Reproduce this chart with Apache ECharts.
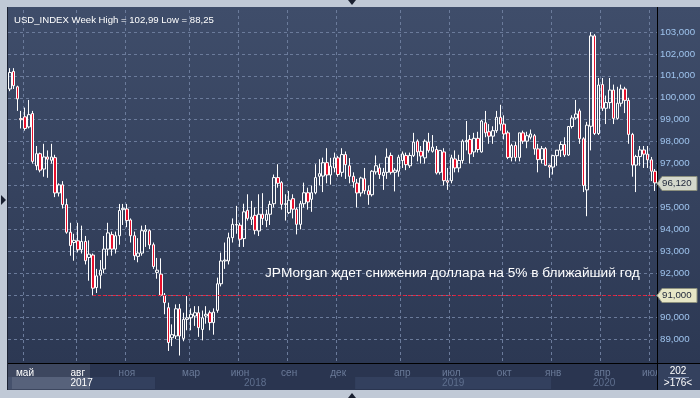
<!DOCTYPE html>
<html>
<head>
<meta charset="utf-8">
<title>USD_INDEX Week</title>
<script src="https://cdn.jsdelivr.net/npm/echarts@6/dist/echarts.min.js"></script>
<style>
  html, body { margin: 0; padding: 0; background: #c0c9d6; }
  #chart { width: 700px; height: 398px; }
</style>
</head>
<body>
<div id="chart"></div>
<script>
// weekly bars, first bar = week of 2017-04-03, last = week of 2020-07-13
const firstWeek = [2017, 3, 3]
const opens = [
  100.40, 101.20, 100.50, 99.05, 99.13, 98.67, 99.28, 96.90, 97.45, 96.75,
  97.30, 97.15, 97.27, 95.66, 96.03, 95.13, 93.87, 93.40, 93.48, 93.07,
  93.45, 92.72, 92.83, 91.35, 91.91, 92.19, 93.10, 93.76, 93.10, 93.71,
  94.90, 94.93, 94.43, 93.71, 92.77, 92.92, 93.91, 93.94, 93.30, 92.04,
  91.96, 91.00, 90.43, 89.06, 89.14, 90.38, 89.03, 89.90, 89.97, 90.05,
  90.20, 89.44, 90.05, 90.20, 89.75, 90.31, 91.52, 92.56, 92.56, 93.62,
  94.20, 94.19, 93.58, 94.87, 94.46, 94.64, 93.93, 94.69, 94.41, 94.69,
  95.17, 96.36, 96.13, 95.14, 94.76, 95.40, 94.92, 94.23, 95.17, 95.67,
  95.37, 95.67, 96.42, 96.43, 97.04, 96.48, 96.80, 97.26, 96.60, 97.41,
  96.90, 96.42, 96.11, 95.66, 96.31, 95.76, 95.58, 96.62, 96.80, 96.45,
  96.60, 97.37, 96.60, 96.65, 97.14, 97.37, 96.90, 97.37, 98.02, 97.56,
  97.26, 97.98, 97.56, 97.64, 96.60, 97.53, 96.22, 96.22, 97.21, 96.80,
  97.14, 97.99, 98.10, 97.53, 98.15, 97.53, 98.86, 98.45, 98.25, 98.50,
  99.11, 98.80, 98.40, 97.28, 97.82, 97.28, 98.40, 98.02, 98.20, 98.27,
  97.67, 97.18, 97.68, 96.92, 96.84, 97.36, 97.61, 97.87, 97.39, 98.69,
  99.08, 99.40, 98.13, 95.80, 98.70, 102.82, 98.37, 100.60, 99.52, 99.78,
  100.35, 99.06, 99.75, 100.40, 99.88, 98.33, 96.93, 97.32, 97.62, 97.43,
  97.17, 96.65
]
const highs = [
  101.35, 101.35, 100.55, 99.40, 99.55, 99.90, 99.40, 97.80, 97.50, 97.90,
  97.60, 97.90, 97.40, 96.10, 96.20, 95.40, 94.30, 93.80, 94.30, 94.17,
  93.70, 93.50, 92.90, 92.20, 92.60, 93.70, 94.30, 93.90, 93.90, 95.16,
  95.16, 95.16, 94.50, 93.90, 93.60, 94.17, 94.20, 94.00, 93.40, 92.70,
  92.68, 91.10, 90.66, 89.67, 90.58, 90.60, 90.20, 90.96, 90.40, 90.50,
  90.50, 90.30, 90.50, 90.30, 90.40, 91.80, 92.94, 93.40, 93.85, 94.50,
  95.07, 94.30, 95.17, 95.60, 95.30, 95.00, 95.60, 95.65, 94.90, 95.30,
  96.50, 96.97, 96.20, 95.60, 95.75, 95.60, 95.00, 95.30, 96.13, 95.90,
  96.00, 96.97, 97.20, 97.27, 97.70, 97.26, 97.50, 97.35, 97.70, 97.55,
  97.25, 96.60, 96.30, 96.40, 96.80, 96.00, 96.70, 97.37, 97.00, 96.80,
  97.69, 97.50, 96.80, 97.40, 97.55, 97.50, 97.50, 98.40, 98.10, 97.80,
  98.10, 98.40, 98.30, 97.80, 97.60, 97.70, 96.80, 97.40, 97.60, 97.40,
  98.10, 98.94, 98.30, 98.40, 98.45, 99.00, 99.40, 98.80, 98.70, 99.40,
  99.68, 99.20, 98.50, 97.90, 98.00, 98.40, 98.50, 98.45, 98.55, 98.35,
  97.90, 97.80, 97.75, 96.95, 97.40, 97.60, 98.00, 98.20, 98.70, 99.20,
  99.90, 99.50, 98.20, 98.90, 102.99, 102.90, 100.90, 100.90, 100.10, 100.90,
  100.60, 100.50, 100.60, 100.50, 100.00, 98.40, 97.40, 97.80, 97.80, 97.80,
  97.30, 96.75
]
const lows = [
  100.30, 100.40, 99.40, 98.60, 98.50, 98.60, 97.00, 96.70, 96.60, 96.40,
  96.35, 97.00, 95.47, 95.50, 94.95, 93.80, 92.80, 92.57, 92.95, 92.90,
  92.40, 91.66, 91.00, 91.10, 91.30, 92.00, 92.80, 92.80, 92.90, 93.30,
  94.20, 94.10, 93.40, 92.60, 92.50, 92.80, 93.20, 93.10, 92.20, 91.75,
  90.95, 90.13, 88.46, 88.68, 89.00, 88.25, 88.90, 89.40, 89.40, 89.60,
  89.10, 88.94, 89.70, 89.40, 89.20, 90.20, 91.40, 92.20, 92.40, 93.40,
  93.80, 93.20, 93.20, 94.40, 94.20, 93.77, 93.70, 94.20, 94.10, 94.20,
  95.00, 95.90, 94.90, 94.40, 94.70, 94.50, 93.77, 94.00, 95.00, 94.90,
  94.80, 95.60, 96.00, 95.70, 96.10, 96.04, 96.60, 96.40, 96.40, 96.30,
  96.10, 95.90, 95.00, 95.50, 95.60, 95.12, 95.50, 96.50, 96.30, 95.80,
  96.30, 96.50, 95.73, 96.40, 96.80, 96.70, 96.80, 97.30, 97.10, 97.00,
  97.00, 97.50, 97.50, 96.50, 96.50, 96.00, 95.80, 96.10, 96.60, 96.60,
  97.00, 97.60, 97.00, 97.30, 97.50, 97.50, 98.20, 97.90, 97.90, 98.40,
  98.50, 98.10, 97.20, 97.10, 97.10, 97.10, 97.90, 97.70, 98.10, 97.40,
  96.60, 97.00, 96.90, 96.35, 96.50, 96.90, 97.30, 97.30, 97.35, 98.60,
  99.00, 97.90, 95.70, 94.60, 97.60, 98.30, 98.30, 99.40, 98.80, 99.50,
  98.80, 99.00, 99.60, 99.30, 97.90, 96.40, 95.70, 96.90, 96.80, 96.80,
  96.20, 95.75
]
const closes = [
  101.15, 100.55, 99.95, 99.00, 98.60, 99.23, 97.10, 97.45, 96.70, 97.30,
  97.20, 97.30, 95.66, 96.03, 95.13, 93.87, 93.26, 93.50, 93.07, 93.45,
  92.57, 92.87, 91.32, 91.88, 92.14, 93.10, 93.84, 93.10, 93.71, 94.86,
  94.96, 94.40, 93.71, 92.80, 92.92, 93.94, 93.98, 93.29, 92.31, 92.14,
  91.00, 90.66, 88.84, 89.20, 90.38, 89.14, 89.90, 89.97, 90.13, 90.20,
  89.52, 89.97, 90.13, 89.75, 90.23, 91.52, 92.56, 92.60, 93.62, 94.23,
  94.22, 93.55, 94.80, 94.50, 94.56, 93.96, 94.69, 94.50, 94.69, 95.14,
  96.36, 96.10, 95.14, 95.17, 95.33, 94.92, 94.23, 95.17, 95.67, 95.25,
  95.67, 96.36, 96.54, 97.04, 96.48, 96.88, 97.26, 96.50, 97.41, 96.95,
  96.42, 96.16, 95.66, 96.34, 95.76, 95.58, 96.65, 96.90, 96.50, 96.60,
  97.29, 96.60, 96.70, 97.29, 97.44, 96.95, 97.37, 97.98, 97.53, 97.34,
  98.02, 97.60, 97.75, 96.57, 97.60, 96.22, 96.15, 97.26, 96.80, 97.14,
  98.02, 98.05, 97.44, 98.15, 97.64, 98.94, 98.40, 98.25, 98.50, 99.11,
  98.80, 98.35, 97.28, 97.82, 97.28, 98.40, 98.02, 98.27, 98.35, 97.67,
  97.18, 97.68, 96.92, 96.84, 97.36, 97.61, 97.87, 97.39, 98.69, 99.08,
  99.26, 98.13, 96.00, 98.75, 102.82, 98.37, 100.58, 99.52, 99.78, 100.35,
  99.06, 99.75, 100.40, 99.88, 98.33, 96.93, 97.32, 97.62, 97.43, 97.17,
  96.65, 96.12
]

// month marks on the time axis (first monday of the month)
const monthMarks = {
  '2017-05-01': 'май', '2017-08-07': 'авг', '2017-11-06': 'ноя',
  '2018-03-05': 'мар', '2018-06-04': 'июн', '2018-09-03': 'сен', '2018-12-03': 'дек',
  '2019-04-01': 'апр', '2019-07-01': 'июл', '2019-10-07': 'окт',
  '2020-01-06': 'янв', '2020-04-06': 'апр', '2020-07-06': 'июл'
}
const years = ['2017', '2018', '2019', '2020']
const supportLevel = 91
const supportFrom = '2017-09-04'
const lastPrice = 96.12
const titleText = 'USD_INDEX Week High = 102,99 Low = 88,25'
const newsText = 'JPMorgan ждет снижения доллара на 5% в ближайший год'

const weeks = opens.map((_, i) => {
  const d = new Date(Date.UTC(firstWeek[0], firstWeek[1], firstWeek[2] + i * 7))
  return d.toISOString().slice(0, 10)
})
const candles = opens.map((o, i) => [o, closes[i], lows[i], highs[i]])

const FONT = 'Liberation Sans'
const fmt = (v, d) => v.toFixed(d).replace('.', ',')
const sliderEnd = 90 // right edge of the lighter scroll window in the time bar

const chart = echarts.init(document.getElementById('chart'))

chart.setOption({
  animation: false,
  backgroundColor: '#c0c9d6',
  textStyle: { fontFamily: FONT },
  title: {
    text: titleText,
    left: 9,
    top: 10,
    textStyle: { color: '#ffffff', fontSize: 9.6, fontWeight: 'normal', fontFamily: FONT }
  },
  grid: { left: 8, right: 43, top: 10, bottom: 37 },
  xAxis: {
    type: 'category',
    data: weeks,
    boundaryGap: true,
    offset: 2,
    axisLine: { show: false },
    axisTick: { show: false },
    axisLabel: {
      interval: (i, v) => v in monthMarks,
      formatter: v => monthMarks[v] || '',
      fontSize: 10,
      margin: 5,
      color: (v, i) => (weeks.indexOf(v) < 21 ? '#ffffff' : '#6a7a98')
    },
    splitLine: {
      show: true,
      interval: (i, v) => v in monthMarks,
      lineStyle: { color: '#6b7b9b', type: [3, 3], width: 1 }
    }
  },
  yAxis: {
    type: 'value',
    position: 'right',
    min: 88,
    max: 104,
    interval: 1,
    axisLine: { show: false },
    axisTick: { show: false },
    axisLabel: {
      color: '#9fc4ee',
      fontSize: 9.7,
      margin: 3,
      showMinLabel: false,
      showMaxLabel: false,
      formatter: v => fmt(v, 3)
    },
    splitLine: {
      show: true,
      showMinLine: false,
      showMaxLine: false,
      lineStyle: { color: '#6b7b9b', type: [3, 3], width: 1 }
    }
  },
  series: [{
    type: 'candlestick',
    data: candles,
    barWidth: 3,
    itemStyle: {
      color: 'rgba(0,0,0,0)',
      color0: '#e8102c',
      borderColor: '#ffffff',
      borderColor0: '#ffffff',
      borderWidth: 1
    },
    markLine: {
      silent: true,
      symbol: 'none',
      label: { show: false },
      lineStyle: { color: '#e8203a', type: [3, 2], width: 1 },
      data: [[
        { coord: [supportFrom, supportLevel] },
        { coord: [weeks[weeks.length - 1], supportLevel] }
      ]]
    }
  }]
})

// chrome: panels, bars, tags and notes, placed from the axes
const xOf = i => chart.convertToPixel({ xAxisIndex: 0 }, weeks[i])
const yOf = v => chart.convertToPixel({ yAxisIndex: 0 }, v)
const band = xOf(1) - xOf(0)

const g = []
const plotGrad = new echarts.graphic.LinearGradient(0, 0, 0, 1, [
  { offset: 0, color: '#3f4d6a' }, { offset: 1, color: '#2c3853' }
])
g.push({ type: 'rect', z: -20, shape: { x: 8, y: 7, width: 692, height: 356 }, style: { fill: plotGrad } })
g.push({ type: 'rect', z: -20, shape: { x: 8, y: 363, width: 692, height: 27 }, style: { fill: '#2a3550' } })

// year bands in the time bar
years.forEach((yr, k) => {
  const idx = weeks.map((w, i) => (w.slice(0, 4) === yr ? i : -1)).filter(i => i >= 0)
  const x0 = xOf(idx[0]) - band / 2
  const x1 = Math.min(657, xOf(idx[idx.length - 1]) + band / 2)
  g.push({ type: 'rect', z: -15, shape: { x: x0, y: 377, width: x1 - x0, height: 12 },
    style: { fill: k % 2 === 0 ? '#33405e' : '#2a3550' } })
  g.push({ type: 'text', z: 10, style: {
    text: yr, x: (x0 + x1) / 2, y: 383, align: 'center', verticalAlign: 'middle',
    fill: k === 0 ? '#ffffff' : '#5f6f8e', font: '10px ' + FONT } })
})
// lighter scroll window
g.push({ type: 'rect', z: -10, shape: { x: 8, y: 364, width: sliderEnd - 8, height: 26 },
  style: { fill: 'rgba(255,255,255,0.09)' } })
g.push({ type: 'rect', z: -10, shape: { x: 12, y: 377, width: sliderEnd - 12, height: 12 },
  style: { fill: 'rgba(255,255,255,0.1)' } })

// right bottom box
g.push({ type: 'rect', z: 20, shape: { x: 657, y: 363, width: 43, height: 27 }, style: { fill: '#34415e' } })
g.push({ type: 'text', z: 21, style: { text: '202', x: 678, y: 371, align: 'center', verticalAlign: 'middle', fill: '#ffffff', font: '10px ' + FONT } })
g.push({ type: 'line', z: 21, shape: { x1: 668, y1: 377.5, x2: 689, y2: 377.5 }, style: { stroke: '#8090b0', lineWidth: 1 } })
g.push({ type: 'text', z: 21, style: { text: '>176<', x: 678, y: 383, align: 'center', verticalAlign: 'middle', fill: '#ffffff', font: '10px ' + FONT } })

// separators
g.push({ type: 'line', z: 22, shape: { x1: 657.5, y1: 7, x2: 657.5, y2: 390 }, style: { stroke: '#000000', lineWidth: 1 } })
g.push({ type: 'line', z: 22, shape: { x1: 8, y1: 363.5, x2: 700, y2: 363.5 }, style: { stroke: '#000000', lineWidth: 1 } })
g.push({ type: 'line', z: 22, shape: { x1: 7.5, y1: 7, x2: 7.5, y2: 390 }, style: { stroke: '#1c2334', lineWidth: 1 } })

// small arrows in the frame
g.push({ type: 'polygon', z: 22, shape: { points: [[348, 0], [356, 0], [352, 5]] }, style: { fill: '#1a2030' } })
g.push({ type: 'polygon', z: 22, shape: { points: [[348, 398], [356, 398], [352, 393]] }, style: { fill: '#1a2030' } })
g.push({ type: 'polygon', z: 22, shape: { points: [[1, 195], [1, 205], [6, 200]] }, style: { fill: '#1a2030' } })

// price tags on the value axis
function tag(value, bg) {
  const y = Math.round(yOf(value)) + 0.5
  g.push({ type: 'polygon', z: 30, shape: { points: [[657, y], [662, y - 7], [697, y - 7], [697, y + 7], [662, y + 7]] },
    style: { fill: bg, stroke: '#8c907e', lineWidth: 1 } })
  g.push({ type: 'text', z: 31, style: { text: fmt(value, 3), x: 662, y: y, verticalAlign: 'middle',
    fill: '#1c2438', font: '9.7px ' + FONT } })
}
tag(lastPrice, '#d4d8cc')
tag(supportLevel, '#e6e6c6')

// news note
g.push({ type: 'text', z: 12, style: { text: newsText, x: 265, y: yOf(92), verticalAlign: 'middle',
  fill: '#ffffff', font: '13.7px ' + FONT } })

chart.setOption({ graphic: { elements: g } })
</script>
</body>
</html>
